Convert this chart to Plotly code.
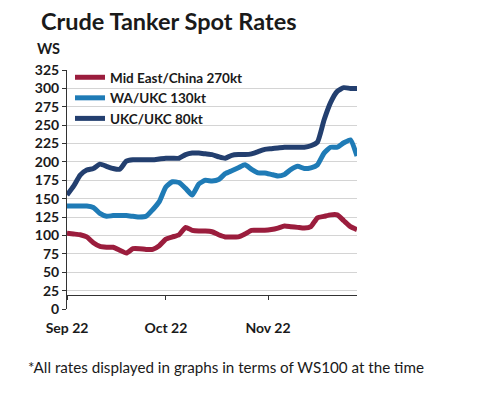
import plotly.graph_objects as go

dates = [
    "2022-09-01", "2022-09-03", "2022-09-05", "2022-09-07", "2022-09-09", "2022-09-11", "2022-09-13",
    "2022-09-15", "2022-09-17", "2022-09-19", "2022-09-21", "2022-09-23", "2022-09-25", "2022-09-27",
    "2022-09-29",
    "2022-10-01", "2022-10-03", "2022-10-05", "2022-10-07", "2022-10-09", "2022-10-11", "2022-10-13",
    "2022-10-15", "2022-10-17", "2022-10-19", "2022-10-21", "2022-10-23", "2022-10-25", "2022-10-27",
    "2022-10-29", "2022-10-31",
    "2022-11-02", "2022-11-04", "2022-11-06", "2022-11-08", "2022-11-10", "2022-11-12", "2022-11-14",
    "2022-11-16", "2022-11-18", "2022-11-20", "2022-11-22", "2022-11-24", "2022-11-26", "2022-11-28",
]

mid_east_china = [103, 102, 101, 98, 90, 85, 84, 84, 80, 76, 82, 82, 81, 81, 86,
                  95, 98, 101, 111, 107, 106, 106, 105, 101, 98, 98, 98, 102, 107, 107, 107,
                  108, 110, 113, 112, 111, 110, 112, 124, 126, 128, 128, 120, 112, 108]
wa_ukc = [140, 140, 140, 140, 138, 130, 126, 127, 127, 127, 126, 125, 126, 135, 146,
          166, 173, 172, 164, 155, 170, 175, 174, 176, 184, 188, 192, 196, 190, 185, 185,
          183, 181, 183, 190, 194, 191, 192, 196, 212, 220, 220, 226, 230, 208]
ukc_ukc = [155, 167, 182, 189, 191, 197, 194, 191, 190, 201, 203, 203, 203, 203, 204,
           205, 205, 205, 210, 212, 212, 211, 210, 207, 205, 209, 210, 210, 211, 214, 217,
           218, 219, 220, 220, 220, 220, 222, 227, 257, 281, 296, 301, 300, 300]

series_names = ["Mid East/China 270kt", "WA/UKC 130kt", "UKC/UKC 80kt"]
series_colors = ["#9b1d3d", "#1f7bb6", "#233f6f"]

x_tickvals = ["2022-09-01", "2022-10-01", "2022-11-01"]
x_ticktext = ["Sep 22", "Oct 22", "Nov 22"]
y_tickvals = [0, 25, 50, 75, 100, 125, 150, 175, 200, 225, 250, 275, 300, 325]

FONT = "Lato, 'Open Sans', sans-serif"
TXT = "#1a1a1a"

W, H = 492, 397
L, T = 67, 70
R = W - 357
B = H - 309
PW, PH = W - L - R, H - T - B


def px(x):
    return (x - L) / PW


def py(y):
    return (H - B - y) / PH


fig = go.Figure()
for name, vals, col in zip(series_names, [mid_east_china, wa_ukc, ukc_ukc], series_colors):
    fig.add_trace(go.Scatter(x=dates, y=vals, name=name, mode="lines",
                             line=dict(color=col, width=5, shape="spline", smoothing=0.5)))

fig.update_layout(
    width=W, height=H,
    margin=dict(l=L, r=R, t=T, b=B),
    paper_bgcolor="white", plot_bgcolor="white",
    font=dict(family=FONT, color=TXT, size=13),
    showlegend=True,
    legend=dict(x=px(70), y=py(62), xanchor="left", yanchor="top",
                bgcolor="rgba(0,0,0,0)", borderwidth=0,
                font=dict(family=FONT, size=13.5, color=TXT, weight="bold"),
                tracegroupgap=0, itemwidth=30),
    xaxis=dict(range=["2022-09-01", "2022-11-28"], tickvals=x_tickvals, ticktext=x_ticktext,
               showgrid=False, zeroline=False, showline=True, linecolor="#333", linewidth=1,
               ticks="outside", ticklen=4, tickcolor="#333",
               anchor="free", position=19 / 325, ticklabelstandoff=16,
               tickfont=dict(family=FONT, size=14, color=TXT, weight="bold")),
    yaxis=dict(range=[0, 325], tickvals=y_tickvals, showgrid=True, gridcolor="#d4d4d4", gridwidth=1,
               zeroline=False, showline=True, linecolor="#333", linewidth=1,
               ticks="outside", ticklen=4, tickcolor="#333",
               tickfont=dict(family=FONT, size=14, color=TXT, weight="bold")),
    annotations=[
        dict(text="Crude Tanker Spot Rates", x=px(40), y=py(21), xref="paper", yref="paper",
             showarrow=False, xanchor="left", yanchor="middle", borderpad=0,
             font=dict(family=FONT, size=23.5, color=TXT, weight="bold")),
        dict(text="WS", x=px(35), y=py(48), xref="paper", yref="paper",
             showarrow=False, xanchor="left", yanchor="middle",
             font=dict(family=FONT, size=14.5, color=TXT, weight="bold")),
        dict(text="*All rates displayed in graphs in terms of WS100 at the time", x=px(26), y=py(367),
             xref="paper", yref="paper", showarrow=False, xanchor="left", yanchor="middle",
             font=dict(family=FONT, size=15.2, color=TXT)),
    ],
)

fig.write_html("out.html", config={"displayModeBar": False},
               post_script="document.body.style.margin='0';document.body.style.overflow='hidden';")
